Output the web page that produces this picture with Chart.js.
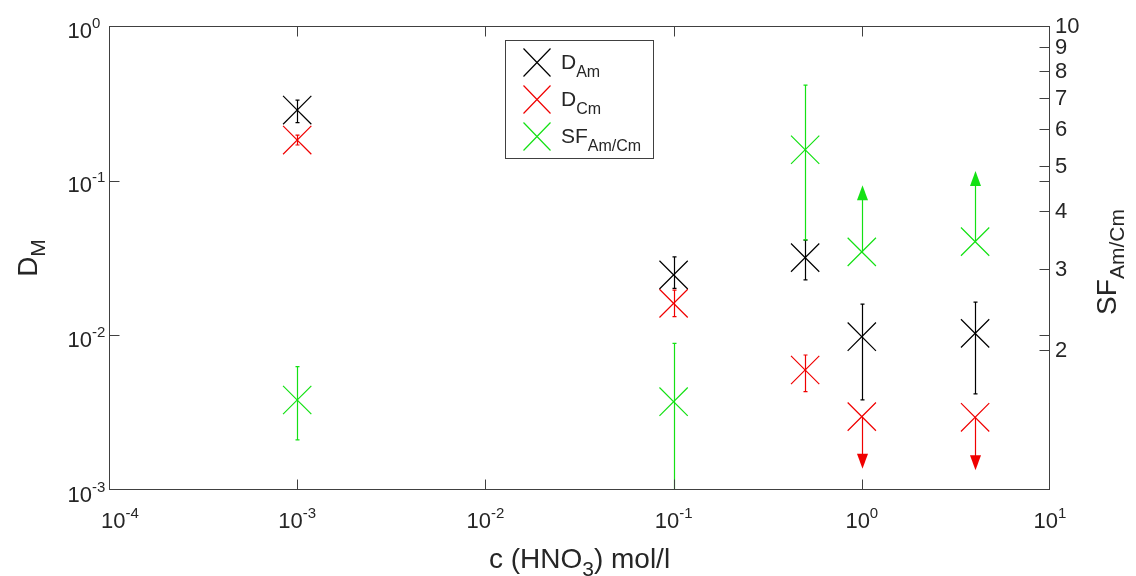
<!DOCTYPE html>
<html>
<head>
<meta charset="utf-8">
<script src="https://cdn.jsdelivr.net/npm/chart.js@4.4.0/dist/chart.umd.min.js"></script>
<style>
  html, body { margin: 0; padding: 0; background: #fff; }
  #wrap { width: 1136px; height: 576px; }
</style>
</head>
<body>
<div id="wrap"><canvas id="myChart" width="1136" height="576"></canvas></div>
<script>
// values
const concHNO3 = [0.001, 0.1, 0.5, 1, 4];

const dAm      = [0.286, 0.0246, 0.0318, 0.0098, 0.0103];
const dAmLow   = [0.237, 0.0201, 0.0228, 0.00382, 0.00418];
const dAmHigh  = [0.332, 0.0322, 0.0413, 0.0159, 0.0164];

const dCm      = [0.183, 0.0161, 0.00597, 0.00298, 0.00295];
const dCmLow   = [0.170, 0.0132, 0.00432, null, null];
const dCmHigh  = [0.197, 0.0196, 0.00746, null, null];
const dCmArrow = [null, null, null, 0.00137, 0.00134];   // upper limits, arrow down

const sfAmCm   = [1.563, 1.55, 5.41, 3.26, 3.43];
const sfLow    = [1.282, 0.8, 3.46, null, null];
const sfHigh   = [1.844, 2.07, 7.46, null, null];
const sfArrow  = [null, null, null, 4.54, 4.87];          // lower limits, arrow up

const xTicks   = [1e-4, 1e-3, 1e-2, 1e-1, 1e0, 1e1];
const xTickExp = ['-4', '-3', '-2', '-1', '0', '1'];
const yTicks   = [1e-3, 1e-2, 1e-1, 1e0];
const yTickExp = ['-3', '-2', '-1', '0'];
const y2Ticks  = [2, 3, 4, 5, 6, 7, 8, 9, 10];

const TXT = '#262626';
const AXC = '#404040';
const FAM = '"Liberation Sans", Arial, sans-serif';
const BLACK = 'rgb(0,0,0)';
const RED = 'rgb(240,0,0)';
const GREEN = 'rgb(20,225,20)';

function f(px) { return px + 'px ' + FAM; }

// draw a run of text pieces (for sub/superscripts), left to right
function partsWidth(ctx, parts) {
  let w = 0;
  parts.forEach(p => { ctx.font = f(p.size); w += ctx.measureText(p.t).width; });
  return w;
}
function drawParts(ctx, parts, x, y) {
  parts.forEach(p => {
    ctx.font = f(p.size);
    ctx.fillText(p.t, x, y + (p.dy || 0));
    x += ctx.measureText(p.t).width;
  });
}
function pow10(exp) {
  return [{t: '10', size: 22}, {t: exp, size: 15, dy: -10}];
}

function toPoints(xs, ys) {
  return xs.map((x, i) => ({x: x, y: ys[i]}));
}

// error bars and limit arrows, drawn under the markers
const errorBars = {
  id: 'errorBars',
  beforeDatasetsDraw(chart) {
    const ctx = chart.ctx, a = chart.chartArea;
    const xs = chart.scales.x;
    ctx.save();
    ctx.beginPath();
    ctx.rect(a.left, a.top, a.right - a.left, a.bottom - a.top);
    ctx.clip();
    chart.data.datasets.forEach(ds => {
      const ys = chart.scales[ds.yAxisID];
      ctx.strokeStyle = ds.borderColor;
      ctx.fillStyle = ds.borderColor;
      ctx.lineWidth = 1.2;
      ds.data.forEach((pt, i) => {
        const px = Math.round(xs.getPixelForValue(pt.x)) + 0.5;
        const lo = ds.errLow[i], hi = ds.errHigh[i], ar = ds.arrowTo[i];
        if (lo != null && hi != null) {
          const p1 = ys.getPixelForValue(lo), p2 = ys.getPixelForValue(hi);
          ctx.beginPath();
          ctx.moveTo(px, p1); ctx.lineTo(px, p2);
          ctx.moveTo(px - 2, p1); ctx.lineTo(px + 2, p1);
          ctx.moveTo(px - 2, p2); ctx.lineTo(px + 2, p2);
          ctx.stroke();
        }
        if (ar != null) {
          const p0 = ys.getPixelForValue(pt.y), pt2 = ys.getPixelForValue(ar);
          const dir = pt2 > p0 ? 1 : -1;
          ctx.beginPath();
          ctx.moveTo(px, p0); ctx.lineTo(px, pt2 - dir * 12);
          ctx.stroke();
          ctx.beginPath();
          ctx.moveTo(px, pt2);
          ctx.lineTo(px - 5.5, pt2 - dir * 15);
          ctx.lineTo(px + 5.5, pt2 - dir * 15);
          ctx.closePath();
          ctx.fill();
        }
      });
    });
    ctx.restore();
  }
};

// box, inward ticks, labels with exponents, titles and legend
const axesDecor = {
  id: 'axesDecor',
  afterDraw(chart) {
    const ctx = chart.ctx, a = chart.chartArea;
    const xs = chart.scales.x, ys = chart.scales.y, ys2 = chart.scales.y2;
    const L = a.left + 0.5, R = a.right - 0.5, T = a.top + 0.5, B = a.bottom - 0.5;
    ctx.save();
    ctx.strokeStyle = AXC;
    ctx.lineWidth = 1;
    ctx.strokeRect(L, T, R - L, B - T);

    ctx.beginPath();
    xTicks.slice(1, -1).forEach(v => {
      const px = Math.round(xs.getPixelForValue(v)) + 0.5;
      ctx.moveTo(px, B); ctx.lineTo(px, B - 10);
      ctx.moveTo(px, T); ctx.lineTo(px, T + 10);
    });
    yTicks.slice(1, -1).forEach(v => {
      const py = Math.round(ys.getPixelForValue(v)) + 0.5;
      ctx.moveTo(L, py); ctx.lineTo(L + 10, py);
      ctx.moveTo(R, py); ctx.lineTo(R - 10, py);
    });
    y2Ticks.slice(0, -1).forEach(v => {
      const py = Math.round(ys2.getPixelForValue(v)) + 0.5;
      ctx.moveTo(R, py); ctx.lineTo(R - 10, py);
    });
    ctx.stroke();

    ctx.fillStyle = TXT;
    ctx.textAlign = 'left';
    ctx.textBaseline = 'alphabetic';
    xTicks.forEach((v, i) => {
      const parts = pow10(xTickExp[i]);
      const w = partsWidth(ctx, parts);
      let cx = xs.getPixelForValue(v);
      if (i === 0) cx += 11;
      drawParts(ctx, parts, cx - w / 2, 528);
    });
    yTicks.forEach((v, i) => {
      const py = ys.getPixelForValue(v);
      drawParts(ctx, pow10(yTickExp[i]), 67.5, py + 11.5);
    });
    ctx.font = f(22);
    ctx.textBaseline = 'middle';
    y2Ticks.forEach(v => {
      ctx.fillText(String(v), 1055, ys2.getPixelForValue(v) + 1);
    });

    ctx.textBaseline = 'alphabetic';
    const xTitle = [{t: 'c (HNO', size: 28}, {t: '3', size: 21, dy: 8}, {t: ') mol/l', size: 28}];
    const cx = (a.left + a.right) / 2;
    drawParts(ctx, xTitle, cx - partsWidth(ctx, xTitle) / 2, 568);

    const cy = (a.top + a.bottom) / 2;
    const yTitle = [{t: 'D', size: 28}, {t: 'M', size: 21, dy: 8}];
    ctx.save();
    ctx.translate(37, cy);
    ctx.rotate(-Math.PI / 2);
    drawParts(ctx, yTitle, -partsWidth(ctx, yTitle) / 2, 0);
    ctx.restore();

    const y2Title = [{t: 'SF', size: 28}, {t: 'Am/Cm', size: 21, dy: 8}];
    ctx.save();
    ctx.translate(1116, cy + 4);
    ctx.rotate(-Math.PI / 2);
    drawParts(ctx, y2Title, -partsWidth(ctx, y2Title) / 2, 0);
    ctx.restore();

    // legend
    const lx = 505.5, ly = 40.5, lw = 148, lh = 118;
    ctx.fillStyle = '#fff';
    ctx.fillRect(lx, ly, lw, lh);
    ctx.strokeStyle = AXC;
    ctx.strokeRect(lx, ly, lw, lh);
    const entries = [
      {main: 'D', sub: 'Am'},
      {main: 'D', sub: 'Cm'},
      {main: 'SF', sub: 'Am/Cm'}
    ];
    chart.data.datasets.forEach((ds, i) => {
      const ry = 62.5 + i * 37;
      ctx.strokeStyle = ds.borderColor;
      ctx.lineWidth = 1.2;
      ctx.beginPath();
      ctx.moveTo(523.5, ry - 14); ctx.lineTo(550.5, ry + 14);
      ctx.moveTo(550.5, ry - 14); ctx.lineTo(523.5, ry + 14);
      ctx.stroke();
      ctx.fillStyle = TXT;
      drawParts(ctx, [{t: entries[i].main, size: 21}, {t: entries[i].sub, size: 16, dy: 8}], 561, ry + 6);
    });
    ctx.restore();
  }
};

const hidden = {
  display: true,
  grid: {display: false, drawTicks: false},
  border: {display: false},
  ticks: {display: false}
};

const data = {
  datasets: [
    {
      label: 'D_Am',
      data: toPoints(concHNO3, dAm),
      errLow: dAmLow, errHigh: dAmHigh, arrowTo: [null, null, null, null, null],
      yAxisID: 'y',
      borderColor: BLACK
    },
    {
      label: 'D_Cm',
      data: toPoints(concHNO3, dCm),
      errLow: dCmLow, errHigh: dCmHigh, arrowTo: dCmArrow,
      yAxisID: 'y',
      borderColor: RED
    },
    {
      label: 'SF_Am/Cm',
      data: toPoints(concHNO3, sfAmCm),
      errLow: sfLow, errHigh: sfHigh, arrowTo: sfArrow,
      yAxisID: 'y2',
      borderColor: GREEN
    }
  ]
};
data.datasets.forEach(ds => {
  ds.showLine = false;
  ds.pointStyle = 'crossRot';
  ds.pointRadius = 20;
  ds.pointBorderWidth = 1.2;
  ds.pointBorderColor = ds.borderColor;
  ds.backgroundColor = ds.borderColor;
});

const config = {
  type: 'scatter',
  data: data,
  options: {
    responsive: false,
    animation: false,
    events: [],
    devicePixelRatio: 1,
    layout: {padding: {left: 109, right: 86, top: 26, bottom: 86}},
    plugins: {legend: {display: false}, tooltip: {enabled: false}},
    scales: {
      x: Object.assign({type: 'logarithmic', position: 'bottom', min: 1e-4, max: 10}, hidden),
      y: Object.assign({type: 'logarithmic', position: 'left', min: 1e-3, max: 1}, hidden),
      y2: Object.assign({type: 'logarithmic', position: 'right', min: 1, max: 10}, hidden)
    }
  },
  plugins: [errorBars, axesDecor]
};

const myChart = new Chart(document.getElementById('myChart'), config);
</script>
</body>
</html>
